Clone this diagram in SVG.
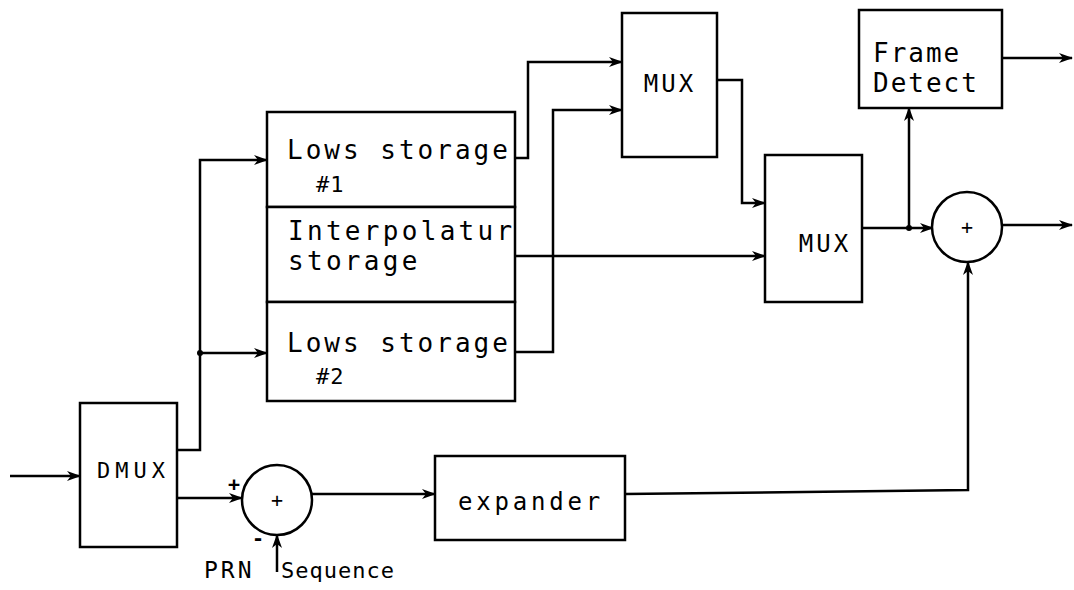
<svg xmlns="http://www.w3.org/2000/svg" width="1074" height="590" viewBox="0 0 1074 590">
<style>
.box{fill:#fff;stroke:#000;stroke-width:2.5}
.ln{fill:none;stroke:#000;stroke-width:2.5;stroke-linejoin:miter}
.t{font-family:"DejaVu Sans Mono","Liberation Mono",monospace;fill:#000}
</style>
<defs>
<marker id="ar" viewBox="0 0 14 10" refX="13" refY="5" markerWidth="14" markerHeight="10" markerUnits="userSpaceOnUse" orient="auto">
<path d="M0,0 L14,5 L0,10 L4,5 z" fill="#000"/>
</marker>
</defs>
<rect width="1074" height="590" fill="#fff"/>
<g id="connectors">
<path class="ln" d="M10,476 H80" marker-end="url(#ar)"/>
<path class="ln" d="M177,450 H200 V160 H267" marker-end="url(#ar)"/>
<path class="ln" d="M200,353 H267" marker-end="url(#ar)"/>
<circle cx="200" cy="353" r="3" fill="#000"/>
<path class="ln" d="M177,498 H242" marker-end="url(#ar)"/>
<path class="ln" d="M277,572 V535" marker-end="url(#ar)"/>
<path class="ln" d="M312,494 H435" marker-end="url(#ar)"/>
<path class="ln" d="M625,494 L968,490 V262" marker-end="url(#ar)"/>
<path class="ln" d="M515,158 H528 V62 H622" marker-end="url(#ar)"/>
<path class="ln" d="M515,352 H553 V110 H622" marker-end="url(#ar)"/>
<path class="ln" d="M515,256 H765" marker-end="url(#ar)"/>
<path class="ln" d="M717,80 H742 V203 H765" marker-end="url(#ar)"/>
<path class="ln" d="M862,228 H933" marker-end="url(#ar)"/>
<path class="ln" d="M909,228 V108" marker-end="url(#ar)"/>
<circle cx="909" cy="228" r="3" fill="#000"/>
<path class="ln" d="M1002,58 H1072" marker-end="url(#ar)"/>
<path class="ln" d="M1002,225 H1072" marker-end="url(#ar)"/>
</g>
<g id="dmux">
<rect class="box" x="80" y="403" width="97" height="144"/>
<text class="t" x="97" y="478" font-size="22" letter-spacing="5">DMUX</text>
</g>
<g id="sum1">
<circle class="box" cx="277" cy="500" r="35"/>
<text class="t" x="277" y="507" font-size="20" text-anchor="middle">+</text>
<text class="t" x="234" y="491" font-size="20" font-weight="bold" text-anchor="middle">+</text>
<text class="t" x="258" y="545" font-size="20" font-weight="bold" text-anchor="middle">-</text>
</g>
<g id="prn-label">
<text class="t" x="204" y="578" font-size="23" letter-spacing="3">PRN</text>
<text class="t" x="281" y="578" font-size="22" letter-spacing="1">Sequence</text>
</g>
<g id="expander">
<rect class="box" x="435" y="456" width="190" height="84"/>
<text class="t" x="458" y="510" font-size="24" letter-spacing="3.8">expander</text>
</g>
<g id="lows1">
<rect class="box" x="267" y="112" width="248" height="95"/>
<text class="t" x="287" y="159" font-size="26" letter-spacing="3">Lows storage</text>
<text class="t" x="316" y="192" font-size="22" letter-spacing="1">#1</text>
</g>
<g id="interp">
<rect class="box" x="267" y="207" width="248" height="95"/>
<text class="t" x="288" y="240" font-size="26" letter-spacing="3.3">Interpolatur</text>
<text class="t" x="288" y="270" font-size="26" letter-spacing="3.3">storage</text>
</g>
<g id="lows2">
<rect class="box" x="267" y="302" width="248" height="99"/>
<text class="t" x="287" y="352" font-size="26" letter-spacing="3">Lows storage</text>
<text class="t" x="316" y="384" font-size="22" letter-spacing="1">#2</text>
</g>
<g id="mux1">
<rect class="box" x="622" y="13" width="95" height="144"/>
<text class="t" x="670" y="92" font-size="24" letter-spacing="3" text-anchor="middle">MUX</text>
</g>
<g id="mux2">
<rect class="box" x="765" y="155" width="97" height="147"/>
<text class="t" x="825" y="252" font-size="24" letter-spacing="3" text-anchor="middle">MUX</text>
</g>
<g id="frame-detect">
<rect class="box" x="859" y="10" width="143" height="98"/>
<text class="t" x="873" y="62" font-size="26" letter-spacing="2">Frame</text>
<text class="t" x="873" y="92" font-size="26" letter-spacing="2">Detect</text>
</g>
<g id="sum2">
<circle class="box" cx="967" cy="227" r="35"/>
<text class="t" x="967" y="234" font-size="20" text-anchor="middle">+</text>
</g>
</svg>
